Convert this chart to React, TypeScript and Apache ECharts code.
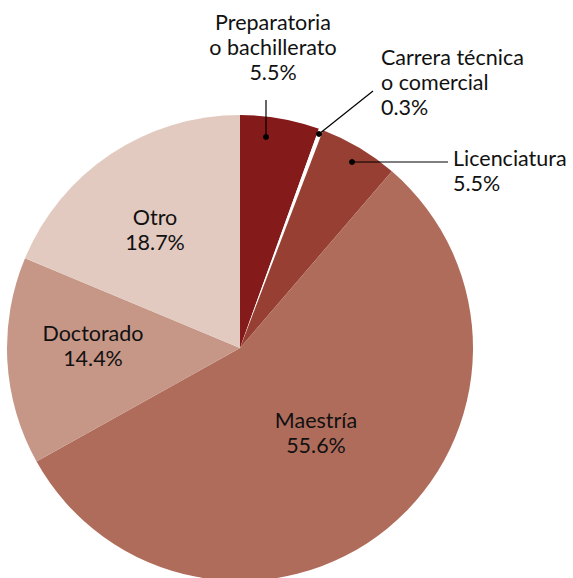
import React, { useEffect, useRef } from "react";
import * as echarts from "echarts";

const categories = [
  "Preparatoria\no bachillerato",
  "Carrera técnica\no comercial",
  "Licenciatura",
  "Maestría",
  "Doctorado",
  "Otro",
];
const values = [5.5, 0.3, 5.5, 55.6, 14.4, 18.7];
const colors = ["#841a19", "#ffffff", "#973f33", "#b06c5b", "#c69686", "#e3cac0"];

export default function App() {
  const ref = useRef<HTMLDivElement>(null);
  useEffect(() => {
    if (!ref.current) return;
    const chart = echarts.init(ref.current, null, { renderer: "svg" });
    const font = "Lato, 'Open Sans', sans-serif";
    const labelPos: Record<number, any> = {
      0: { x: 273, y: 47, align: "center" },
      1: { x: 381, y: 82, align: "left" },
      2: { x: 453, y: 170, align: "left" },
      3: { x: 316, y: 432, align: "center" },
      4: { x: 93, y: 345, align: "center" },
      5: { x: 155, y: 229, align: "center" },
    };
    const leaders = [
      [[266, 137], [266, 100]],
      [[319, 134], [373, 91]],
      [[352, 162], [448, 162]],
    ];
    chart.setOption({
      animation: false,
      series: [
        {
          type: "pie",
          center: [240, 348],
          radius: 233,
          startAngle: 90,
          clockwise: true,
          silent: true,
          emphasis: { disabled: true },
          data: categories.map((name, i) => ({
            name,
            value: values[i],
            itemStyle: { color: colors[i] },
          })),
          label: {
            show: true,
            position: "inside",
            overflow: "none",
            formatter: (p: any) => `${p.name}\n${p.value.toFixed(1)}%`,
            fontFamily: font,
            fontSize: 21.5,
            lineHeight: 25,
            color: "#111111",
          },
          labelLine: { show: false },
          labelLayout: (params: any) => {
            const lp = labelPos[params.dataIndex];
            return { x: lp.x, y: lp.y, align: lp.align, verticalAlign: "middle" };
          },
        },
      ],
      graphic: [
        ...leaders.map((pts) => ({
          type: "polyline",
          z: 100,
          shape: { points: pts },
          style: { stroke: "#000", lineWidth: 1.2, fill: "none" },
          silent: true,
        })),
        ...leaders.map((pts) => ({
          type: "circle",
          z: 101,
          shape: { cx: pts[0][0], cy: pts[0][1], r: 3 },
          style: { fill: "#000" },
          silent: true,
        })),
      ],
    });
    return () => chart.dispose();
  }, []);
  return (
    <div
      ref={ref}
      style={{ position: "fixed", left: 0, top: 0, width: 573, height: 578, background: "#fff" }}
    />
  );
}
